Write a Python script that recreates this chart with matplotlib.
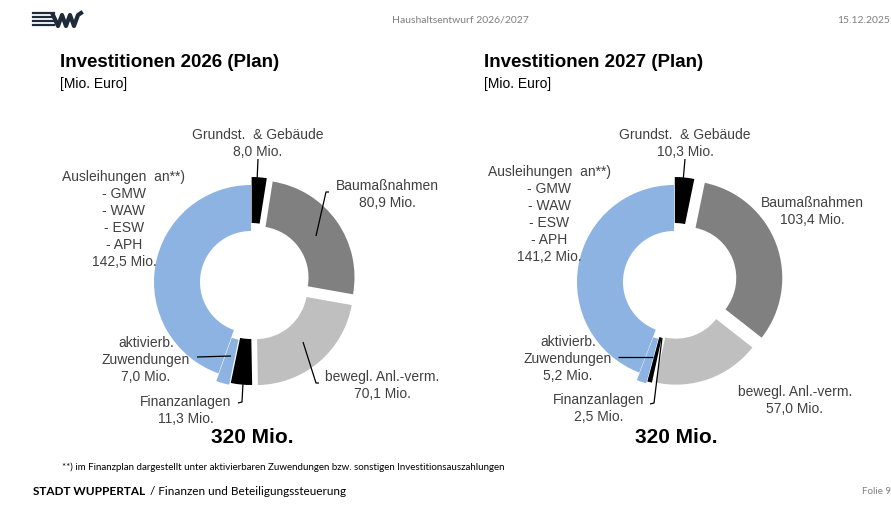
import matplotlib
matplotlib.use("Agg")
import matplotlib.pyplot as plt
from matplotlib import font_manager

# ---- data -------------------------------------------------------------
categories = ["Grundst. & Gebäude", "Baumaßnahmen", "bewegl. Anl.-verm.",
              "Finanzanlagen", "aktivierb. Zuwendungen", "Ausleihungen"]
values_2026 = [8.0, 80.9, 70.1, 11.3, 7.0, 142.5]
values_2027 = [10.3, 103.4, 57.0, 2.5, 5.2, 141.2]
total_2026 = 320
total_2027 = 320

# ---- style ------------------------------------------------------------
colors = ["#000000", "#808080", "#bfbfbf", "#000000", "#8db3e2", "#8db3e2"]
# offsets in pixels (pie explode is in data units here)
explode_2026 = [8, 8, 8, 6, 8, 0]
explode_2027 = [8, 12, 6, 6, 8, 0]
txt_col = "#404040"

names = {f.name for f in font_manager.fontManager.ttflist}
narrow = "Liberation Sans Narrow" if "Liberation Sans Narrow" in names else "Liberation Sans"
calib = "Lato" if "Lato" in names else "DejaVu Sans"
plt.rcParams["font.family"] = ["Liberation Sans", "DejaVu Sans"]

W, H = 891, 506
fig = plt.figure(figsize=(W / 100, H / 100), dpi=100)
ax = fig.add_axes([0, 0, 1, 1])


def fy(y):
    # pixel row (from top) -> data y
    return H - y


def mio(v):
    return f"{v:.1f}".replace(".", ",") + " Mio."


def donut(vals, cx, cy, explode):
    ax.pie(vals, colors=colors, startangle=90, counterclock=False,
           center=(cx, fy(cy)), radius=97, explode=explode,
           wedgeprops=dict(width=46, linewidth=0))


def label(x, y, lines, ha="center"):
    for i, s in enumerate(lines):
        ax.text(x, fy(y + i * 17), s, ha=ha, va="center", fontsize=10, color=txt_col)


def leader(pts):
    xs = [p[0] for p in pts]
    ys = [fy(p[1]) for p in pts]
    ax.plot(xs, ys, color="#000000", lw=0.9, solid_capstyle="butt")


# ---- left donut 2026 ---------------------------------------------------
donut(values_2026, 251, 283, explode_2026)
label(258, 135, ["Grundst.  & Gebäude", mio(values_2026[0])])
leader([(258, 160), (257, 183)])
label(387, 186, ["Baumaßnahmen", mio(values_2026[1])])
leader([(329, 193), (326, 193), (316, 237)])
label(382, 377, ["bewegl. Anl.-verm.", mio(values_2026[2])])
leader([(303, 343), (316, 384), (319, 384)])
label(186, 402, ["Finanzanlagen", mio(values_2026[3])])
leader([(243, 384), (242, 403), (238, 404)])
label(146, 343, ["aktivierb.", "Zuwendungen", mio(values_2026[4])])
leader([(197, 358), (231, 357)])
label(124, 177, ["Ausleihungen  an**)", "- GMW", "- WAW", "- ESW", "- APH",
                 mio(values_2026[5])])
ax.text(252, fy(438), f"{total_2026} Mio.", ha="center", va="center",
        fontsize=15, fontweight="bold", color="#000000")

# ---- right donut 2027 --------------------------------------------------
donut(values_2027, 674, 283, explode_2027)
label(685, 135, ["Grundst.  & Gebäude", mio(values_2027[0])])
leader([(685, 160), (683, 183)])
label(812, 203, ["Baumaßnahmen", mio(values_2027[1])])
label(795, 392, ["bewegl. Anl.-verm.", mio(values_2027[2])])
label(599, 400, ["Finanzanlagen", mio(values_2027[3])])
leader([(662, 339), (654, 404), (650, 405)])
label(568, 342, ["aktivierb.", "Zuwendungen", mio(values_2027[4])])
leader([(618, 358), (653, 358)])
label(549, 172, ["Ausleihungen  an**)", "- GMW", "- WAW", "- ESW", "- APH",
                 mio(values_2027[5])])
ax.text(676, fy(438), f"{total_2027} Mio.", ha="center", va="center",
        fontsize=15, fontweight="bold", color="#000000")

# ---- titles -------------------------------------------------------------
for x0, yr in [(60, 2026), (484, 2027)]:
    ax.text(x0, fy(62), f"Investitionen {yr} (Plan)", ha="left", va="center",
            fontsize=13.5, fontweight="bold", family=narrow, color="#000000")
    ax.text(x0, fy(84), "[Mio. Euro]", ha="left", va="center",
            fontsize=10, family=narrow, color="#000000")

# ---- page header / footer ----------------------------------------------
for yy in (14, 18, 22, 26):
    ax.plot([33, 54], [fy(yy), fy(yy)], color="#1f2a3a", lw=1.6)
wave_x = [53, 58, 62, 66, 70, 74, 78, 81]
wave_y = [16, 27, 16, 27, 16, 27, 16, 14]
ax.plot(wave_x, [fy(v) for v in wave_y], color="#1f2a3a", lw=3)

ax.text(460, fy(20), "Haushaltsentwurf 2026/2027", ha="center", va="center",
        fontsize=7.5, family=calib, color="#7f7f7f")
ax.text(890, fy(20), "15.12.2025", ha="right", va="center",
        fontsize=7.5, family=calib, color="#7f7f7f")
ax.text(62, fy(467), "**) im Finanzplan dargestellt unter aktivierbaren Zuwendungen "
        "bzw. sonstigen Investitionsauszahlungen", ha="left", va="center",
        fontsize=7, family=calib, color="#000000")
ax.text(33, fy(492), "STADT WUPPERTAL", ha="left", va="center",
        fontsize=8.5, family=calib, fontweight="bold", color="#000000")
ax.text(150, fy(492), "/ Finanzen und Beteiligungssteuerung", ha="left", va="center",
        fontsize=8.5, family=calib, color="#000000")
ax.text(891, fy(492), "Folie 9", ha="right", va="center",
        fontsize=7, family=calib, color="#7f7f7f")

ax.set_xlim(0, W)
ax.set_ylim(0, H)
ax.set_aspect("auto")
ax.axis("off")

fig.savefig("out.png", dpi=100)
